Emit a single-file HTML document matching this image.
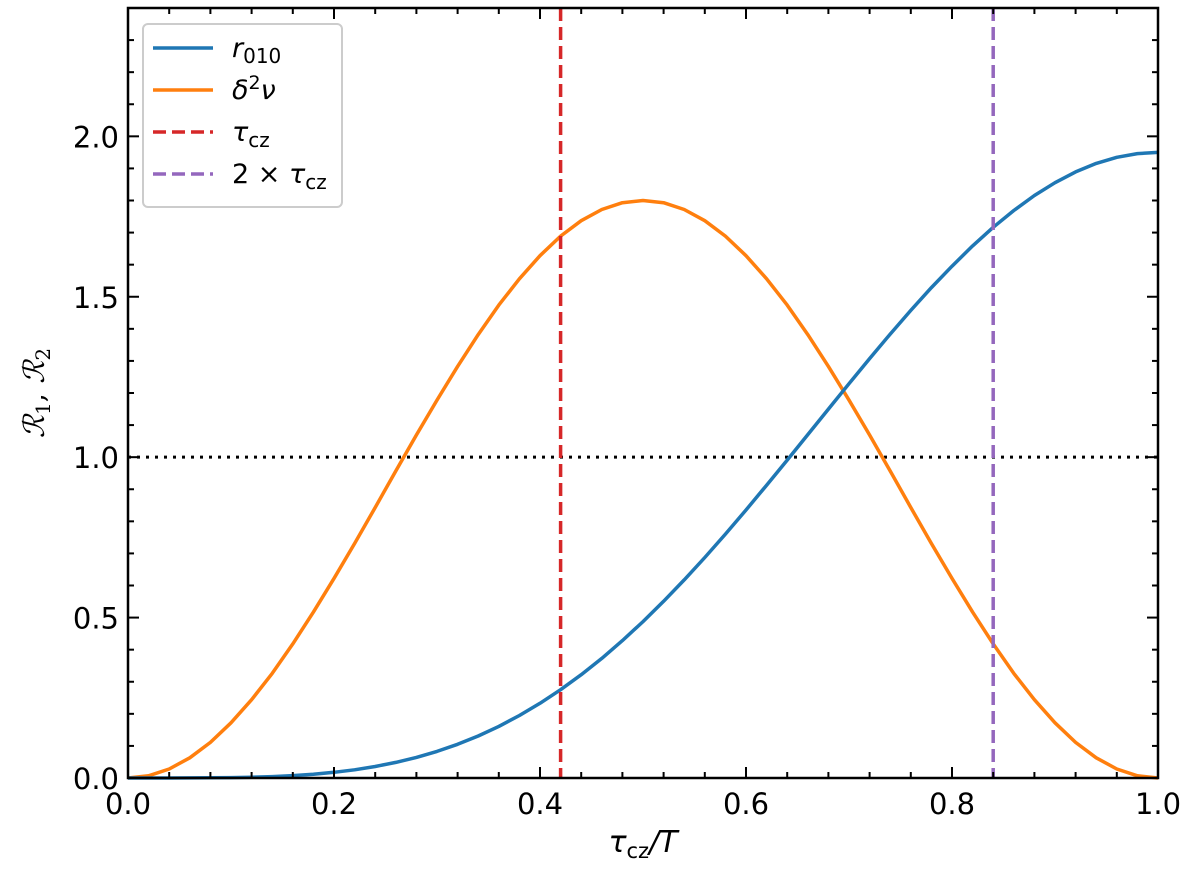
<!DOCTYPE html>
<html><head><meta charset="utf-8"><style>
html,body{margin:0;padding:0;background:#fff;}
svg{display:block;font-family:"DejaVu Sans","Liberation Sans",sans-serif;}
</style></head><body>
<svg id="chart" width="1200" height="874" viewBox="0 0 1200 874">
<g id="grid"></g>
<g id="series"></g>
<g id="axes"></g>
<g id="legend"></g>
</svg>
<script>
const xs = [0,0.02,0.04,0.06,0.08,0.10,0.12,0.14,0.16,0.18,0.20,0.22,0.24,0.26,0.28,0.30,0.32,0.34,0.36,0.38,0.40,0.42,0.44,0.46,0.48,0.50,0.52,0.54,0.56,0.58,0.60,0.62,0.64,0.66,0.68,0.70,0.72,0.74,0.76,0.78,0.80,0.82,0.84,0.86,0.88,0.90,0.92,0.94,0.96,0.98,1.00];
const r010 = [0,0,0.00003,0.0002,0.0005,0.0012,0.0024,0.0044,0.0075,0.0118,0.0178,0.0257,0.0358,0.0485,0.0641,0.0828,0.1050,0.1309,0.1607,0.1947,0.2328,0.2752,0.3219,0.3729,0.4282,0.4875,0.5507,0.6174,0.6874,0.7601,0.8354,0.9126,0.9910,1.0704,1.1499,1.2291,1.3071,1.3835,1.4574,1.5284,1.5953,1.6585,1.7164,1.7688,1.8155,1.8556,1.8892,1.9155,1.9348,1.9461,1.95];
const d2nu = [0,0.007,0.028,0.063,0.111,0.172,0.244,0.326,0.418,0.517,0.622,0.731,0.843,0.957,1.069,1.178,1.283,1.382,1.474,1.556,1.628,1.689,1.737,1.772,1.793,1.8,1.793,1.772,1.737,1.689,1.628,1.556,1.474,1.382,1.283,1.178,1.069,0.957,0.843,0.731,0.622,0.517,0.418,0.326,0.244,0.172,0.111,0.063,0.028,0.007,0];
const vlines = [0.42, 0.84];
const hline = [1.0];
const xTicks = [0,0.2,0.4,0.6,0.8,1.0];
const xTickLabels = ["0.0","0.2","0.4","0.6","0.8","1.0"];
const yTicks = [0,0.5,1.0,1.5,2.0];
const yTickLabels = ["0.0","0.5","1.0","1.5","2.0"];

const L=128,R=1158,T=8,B=778,XMAX=1,YMAX=2.4;
const X=v=>L+(v/XMAX)*(R-L);
const Y=v=>B-(v/YMAX)*(B-T);
const NS="http://www.w3.org/2000/svg";
function mk(tag,attrs,parent){const e=document.createElementNS(NS,tag);for(const k in attrs)e.setAttribute(k,attrs[k]);parent.appendChild(e);return e;}
const series=document.getElementById('series'),axes=document.getElementById('axes'),legend=document.getElementById('legend');

hline.forEach(h=>{const e=mk('line',{x1:L,x2:R,y1:Y(h),y2:Y(h),stroke:'#000','stroke-width':3,'stroke-dasharray':'3,6'},series);

});

function path(vals,color,name){
 const d=xs.map((x,i)=>(i?'L':'M')+X(x).toFixed(1)+','+Y(vals[i]).toFixed(1)).join(' ');
 const e=mk('path',{d:d,fill:'none',stroke:color,'stroke-width':3.5,'stroke-linejoin':'round'},series);
 
 
}
path(d2nu,'#ff7f0e','d2nu-line');
path(r010,'#1f77b4','r010-line');

const vcol=['#d62728','#9467bd'];
vlines.forEach((v,i)=>{const e=mk('line',{x1:X(v),x2:X(v),y1:T,y2:B,stroke:vcol[i],'stroke-width':3.5,'stroke-dasharray':'13,6'},series);

});

const fr=mk('rect',{x:L,y:T,width:R-L,height:B-T,fill:'none',stroke:'#000','stroke-width':2.5},axes);



for(let k=0;k<=25;k++){const v=k*0.04;const major=k%5===0;const len=major?11:6;
 mk('line',{x1:X(v),x2:X(v),y1:B,y2:B-len,stroke:'#000','stroke-width':2},axes);
 mk('line',{x1:X(v),x2:X(v),y1:T,y2:T+len,stroke:'#000','stroke-width':2},axes);}
for(let k=0;k<=24;k++){const v=k*0.1;const major=k%5===0;const len=major?11:6;
 mk('line',{x1:L,x2:L+len,y1:Y(v),y2:Y(v),stroke:'#000','stroke-width':2},axes);
 mk('line',{x1:R,x2:R-len,y1:Y(v),y2:Y(v),stroke:'#000','stroke-width':2},axes);}
xTicks.forEach((v,i)=>{const t=mk('text',{x:X(v),y:B+36,'text-anchor':'middle','font-size':29},axes);t.textContent=xTickLabels[i];
 
 });
yTicks.forEach((v,i)=>{const t=mk('text',{x:L-9,y:Y(v)+11,'text-anchor':'end','font-size':29},axes);t.textContent=yTickLabels[i];
 
 });

const xt=mk('text',{x:643,y:852,'text-anchor':'middle','font-size':30,'font-style':'italic'},axes);
xt.innerHTML='τ<tspan font-style="normal" font-size="21" dy="6">cz</tspan><tspan dy="-6">/T</tspan>';


const yt=mk('text',{x:0,y:0,'text-anchor':'middle','font-size':29,'font-style':'italic','font-family':'"DejaVu Serif",serif',transform:'translate(44,393) rotate(-90)'},axes);
yt.innerHTML='ℛ<tspan font-style="normal" font-size="20" dy="6">1</tspan><tspan dy="-6" font-style="normal">, </tspan>ℛ<tspan font-style="normal" font-size="20" dy="6">2</tspan>';



const lb=mk('rect',{x:143,y:24,width:199,height:183,rx:5,fill:'#fff',stroke:'#ccc','stroke-width':2},legend);


const entries=[['#1f77b4',null,'<tspan font-style="italic">r</tspan><tspan font-size="20" dy="6">010</tspan>','legend-entry-r010'],
['#ff7f0e',null,'<tspan font-style="italic">δ</tspan><tspan font-size="19" dy="-10">2</tspan><tspan font-style="italic" dy="10">ν</tspan>','legend-entry-d2nu'],
['#d62728','13,6','<tspan font-style="italic">τ</tspan><tspan font-size="20" dy="6">cz</tspan>','legend-entry-tau-cz'],
['#9467bd','13,6','2 × <tspan font-style="italic">τ</tspan><tspan font-size="20" dy="6">cz</tspan>','legend-entry-two-tau-cz']];
entries.forEach((en,i)=>{const y=48+i*42;
 const g=mk('g',{},legend);
 
 
 const a={x1:153,x2:213,y1:y,y2:y,stroke:en[0],'stroke-width':3.5};if(en[1])a['stroke-dasharray']=en[1];
 mk('line',a,g);
 const t=mk('text',{x:232,y:y+9,'font-size':27},g);t.innerHTML=en[2];});
</script>
</body></html>
